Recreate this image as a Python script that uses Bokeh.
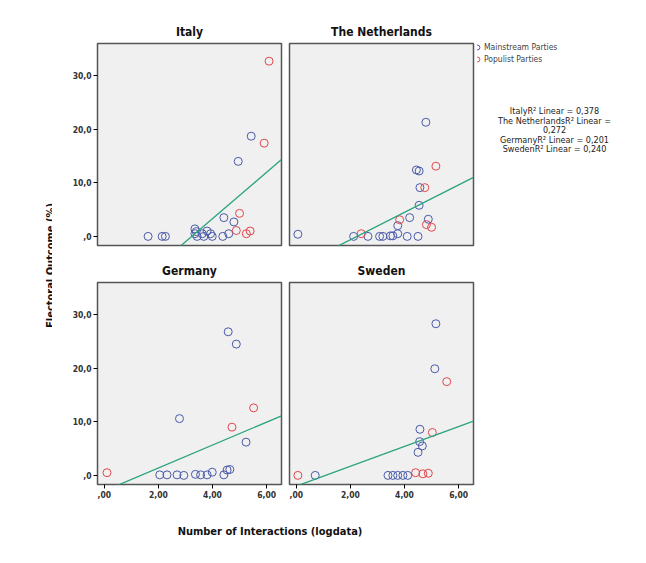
import numpy as np
from bokeh.plotting import figure
from bokeh.layouts import row, column
from bokeh.models import Range1d, FixedTicker, Div, Legend, LegendItem, ColumnDataSource
from bokeh.core.properties import value
from bokeh.embed import file_html
from bokeh.resources import INLINE

countries = ["Italy", "The Netherlands", "Germany", "Sweden"]
main_x = {
 "Italy": [1.62,2.14,2.26,3.35,3.35,3.43,3.62,3.80,3.93,3.99,3.68,4.38,4.60,4.79,4.42,4.95,5.43,3.40],
 "The Netherlands": [0.06,2.12,2.65,3.08,3.20,3.48,3.57,3.75,3.75,4.10,4.19,4.50,4.54,4.44,4.54,4.57,4.79,4.88],
 "Germany": [2.05,2.32,2.69,2.94,3.37,3.56,3.80,3.99,4.42,4.54,4.64,2.78,4.58,4.88,5.24],
 "Sweden": [0.70,3.39,3.57,3.75,3.94,4.12,4.50,4.56,4.66,4.57,5.12,5.16],
}
main_y = {
 "Italy": [0.0,0.0,0.0,1.4,0.5,0.0,0.5,1.0,0.5,0.0,0.0,0.0,0.5,2.7,3.5,14.0,18.7,0.9],
 "The Netherlands": [0.4,0.0,0.0,0.0,0.0,0.1,0.1,0.5,2.0,0.0,3.5,0.0,5.8,12.4,12.2,9.1,21.3,3.2],
 "Germany": [0.1,0.1,0.1,0.0,0.2,0.1,0.1,0.6,0.1,1.0,1.1,10.6,26.8,24.5,6.2],
 "Sweden": [0.0,0.0,0.0,0.0,0.0,0.0,4.3,6.3,5.5,8.6,19.9,28.3],
}
pop_x = {
 "Italy": [6.09,5.91,5.00,4.88,5.25,5.39],
 "The Netherlands": [2.40,3.82,4.75,5.16,4.81,5.00],
 "Germany": [0.10,4.72,5.52],
 "Sweden": [0.06,4.41,4.68,4.88,5.03,5.56],
}
pop_y = {
 "Italy": [32.7,17.4,4.3,1.1,0.5,1.0],
 "The Netherlands": [0.5,3.1,9.1,13.1,2.2,1.7],
 "Germany": [0.5,9.0,12.6],
 "Sweden": [0.0,0.5,0.3,0.4,8.0,17.5],
}
fit_intercept = {"Italy": -14.0, "The Netherlands": -5.75, "Germany": -2.9, "Sweden": -2.0}
fit_slope = {"Italy": 4.33, "The Netherlands": 2.56, "Germany": 2.14, "Sweden": 1.85}
r2_lines = ["ItalyR² Linear = 0,378", "The NetherlandsR² Linear =", "0,272",
            "GermanyR² Linear = 0,201", "SwedenR² Linear = 0,240"]
x_ticks = [0, 2, 4, 6]
x_tick_labels = [",00", "2,00", "4,00", "6,00"]
y_ticks = [0, 10, 20, 30]
y_tick_labels = [",0", "10,0", "20,0", "30,0"]

BLUE = "#4a5aa8"
RED = "#e0474c"
GREEN = "#2aa37f"
FONT = "DejaVu Sans Condensed"
LEFT = 45

def panel(name, left, bottom, top):
    w = (LEFT if left else 4) + 184 + 4
    h = top + 202 + (25 if bottom else 5)
    p = figure(width=w, height=h, output_backend="svg", toolbar_location=None,
               x_range=Range1d(-0.25, 6.55), y_range=Range1d(-1.7, 36),
               min_border_left=LEFT if left else 4, min_border_right=4,
               min_border_top=top, min_border_bottom=25 if bottom else 5,
               title=name)
    p.title.align = "center"
    p.title.text_font = FONT
    p.title.text_font_size = "12px"
    p.title.text_font_style = "bold"
    p.title.text_color = "#111111"
    p.background_fill_color = "#f0f0f0"
    p.outline_line_color = "#555555"
    p.outline_line_width = 1.5
    p.grid.visible = False
    p.xaxis.visible = bottom
    p.yaxis.visible = left
    for ax, t, l in ((p.xaxis, x_ticks, x_tick_labels), (p.yaxis, y_ticks, y_tick_labels)):
        ax.ticker = FixedTicker(ticks=t)
        ax.major_label_overrides = {k: s for k, s in zip(t, l)}
        ax.minor_tick_line_color = None
        ax.axis_line_color = None
        ax.major_tick_in = 0
        ax.major_tick_out = 4
        ax.major_label_text_font = FONT
        ax.major_label_text_font_size = "8.5px"
        ax.major_label_text_font_style = "bold"
        ax.major_label_text_color = "#333333"
        ax.major_label_standoff = 2
    p.scatter(main_x[name], main_y[name], marker="circle", size=8, fill_color=None,
              line_color=BLUE, line_width=1)
    p.scatter(pop_x[name], pop_y[name], marker="circle", size=8, fill_color=None,
              line_color=RED, line_width=1)
    xs = np.array([-0.25, 6.55])
    p.line(xs, fit_intercept[name] + fit_slope[name] * xs, line_color=GREEN, line_width=1.3)
    return p

f1 = panel("Italy", True, False, 43)
f2 = panel("The Netherlands", False, False, 43)
f3 = panel("Germany", True, True, 32)
f4 = panel("Sweden", False, True, 32)

# legend figure (pixel-like coordinates, y downwards)
lg = figure(width=158, height=250, output_backend="svg", toolbar_location=None,
            x_range=Range1d(478, 636), y_range=Range1d(250, 0),
            min_border=0)
lg.axis.visible = False
lg.grid.visible = False
lg.outline_line_color = None
# legend swatches reuse the Italy data, which lies outside this figure's ranges
r1 = lg.scatter(main_x["Italy"], main_y["Italy"], marker="circle", size=8,
                fill_color=None, line_color=BLUE)
r2 = lg.scatter(pop_x["Italy"], pop_y["Italy"], marker="circle", size=8,
                fill_color=None, line_color=RED)
leg = Legend(items=[LegendItem(label="Mainstream Parties", renderers=[r1]),
                    LegendItem(label="Populist Parties", renderers=[r2])],
             location=(-6, 180), title="Ideology", padding=2, spacing=-4, margin=0,
             glyph_width=12, glyph_height=12, label_standoff=1,
             background_fill_alpha=0, border_line_color=None,
             label_text_font=FONT, label_text_font_size="8.5px",
             title_text_font=FONT, title_text_font_size="9.5px",
             title_text_font_style="normal", title_standoff=3)
lg.add_layout(leg)
src = ColumnDataSource(dict(x=[555]*5, y=[84, 96, 107, 119, 131], t=r2_lines))
lg.text("x", "y", text="t", source=src, text_align="center", text_baseline="middle",
        text_font=value(FONT), text_font_size="9px", text_color="#222222")

ylab = figure(width=52, height=510, output_backend="svg", toolbar_location=None,
              x_range=Range1d(0, 52), y_range=Range1d(510, 0), min_border=0)
ylab.axis.visible = False
ylab.grid.visible = False
ylab.outline_line_color = None
ylab.text([50], [265], text=["Electoral Outcome (%)"], angle=np.pi / 2,
          text_align="center", text_baseline="middle", text_font=value(FONT),
          text_font_size="11px", text_font_style="bold", text_color="#111111")

xlab = Div(text="<div style='width:426px;text-align:center;font-family:\"DejaVu Sans Condensed\";"
                "font-size:11px;font-weight:bold;color:#111;padding-top:10px'>"
                "Number of Interactions (logdata)</div>", width=426, height=30)

layout = row(ylab, column(row(f1, f2, lg), row(f3, f4), xlab))
open("out.html", "w").write(file_html(layout, INLINE))
